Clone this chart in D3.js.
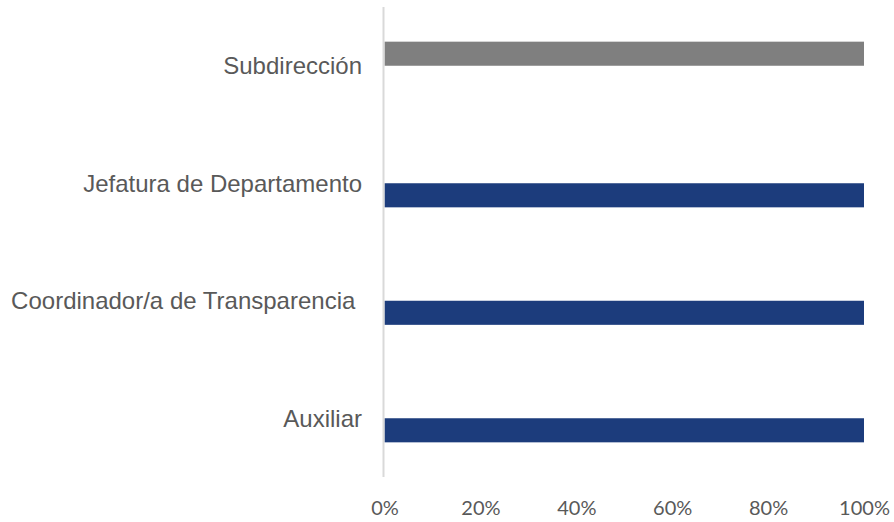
<!DOCTYPE html>
<html>
<head>
<meta charset="utf-8">
<script src="https://cdn.jsdelivr.net/npm/d3@7"></script>
<style>
  body { margin: 0; background: #fff; }
  svg { display: block; }
</style>
</head>
<body>
<svg id="chart" width="894" height="522"></svg>
<script>
// Categories, top to bottom
const categories = ["Subdirección", "Jefatura de Departamento", "Coordinador/a de Transparencia ", "Auxiliar"];
// Two series, clustered (gray sits in the upper slot, blue in the lower one)
const series = ["gris", "azul"];
const gris_values = [1, 0, 0, 0];
const azul_values = [0, 1, 1, 1];
const x_ticks = [0, 0.2, 0.4, 0.6, 0.8, 1];

const colors = {gris: "#7f7f7f", azul: "#1c3c7c"};

const width = 894;
const height = 522;

const svg = d3.select("#chart");

// build rows from the arrays
const rows = categories.map((c, i) => ({
  name: c,
  gris: gris_values[i],
  azul: azul_values[i]
}));

const x = d3.scaleLinear().domain([0, 1]).range([384.5, 864]);

// band per category over the plot area
const y = d3.scaleBand()
  .domain(categories)
  .range([7, 477])
  .paddingInner(0.59)
  .paddingOuter(0.295);

const ySub = d3.scaleBand()
  .domain(series)
  .range([0, y.bandwidth()]);

// bars
const groups = svg.append("g")
  .selectAll("g")
  .data(rows)
  .join("g")
  .attr("transform", d => `translate(0,${y(d.name)})`);

groups.selectAll("rect")
  .data(d => series.map(s => ({key: s, value: d[s]})))
  .join("rect")
  .attr("x", x(0))
  .attr("y", d => ySub(d.key))
  .attr("height", ySub.bandwidth())
  .attr("width", d => x(d.value) - x(0))
  .attr("fill", d => colors[d.key]);

// vertical axis line
svg.append("line")
  .attr("x1", 383.5).attr("x2", 383.5)
  .attr("y1", 7).attr("y2", 477)
  .attr("stroke", "#d9d9d9")
  .attr("stroke-width", 2);

// category labels (centered on the whole band)
svg.append("g")
  .selectAll("text")
  .data(categories)
  .join("text")
  .attr("x", 362)
  .attr("y", d => y(d) + y.bandwidth() / 2)
  .attr("dy", "0.35em")
  .attr("text-anchor", "end")
  .attr("xml:space", "preserve")
  .style("white-space", "pre")
  .style("font-family", "'Liberation Sans', Arial, sans-serif")
  .style("font-size", "24px")
  .attr("fill", "#595959")
  .text(d => d);

// x tick labels
const xAxis = d3.axisBottom(x)
  .tickValues(x_ticks)
  .tickFormat(d3.format(".0%"))
  .tickSize(0)
  .tickPadding(0);

const gx = svg.append("g")
  .attr("transform", "translate(0,501)")
  .call(xAxis);

gx.select(".domain").remove();
gx.selectAll("text")
  .attr("dy", "0.71em")
  .style("font-family", "Lato, 'Open Sans', sans-serif")
  .style("font-size", "20px")
  .attr("fill", "#595959");
</script>
</body>
</html>
